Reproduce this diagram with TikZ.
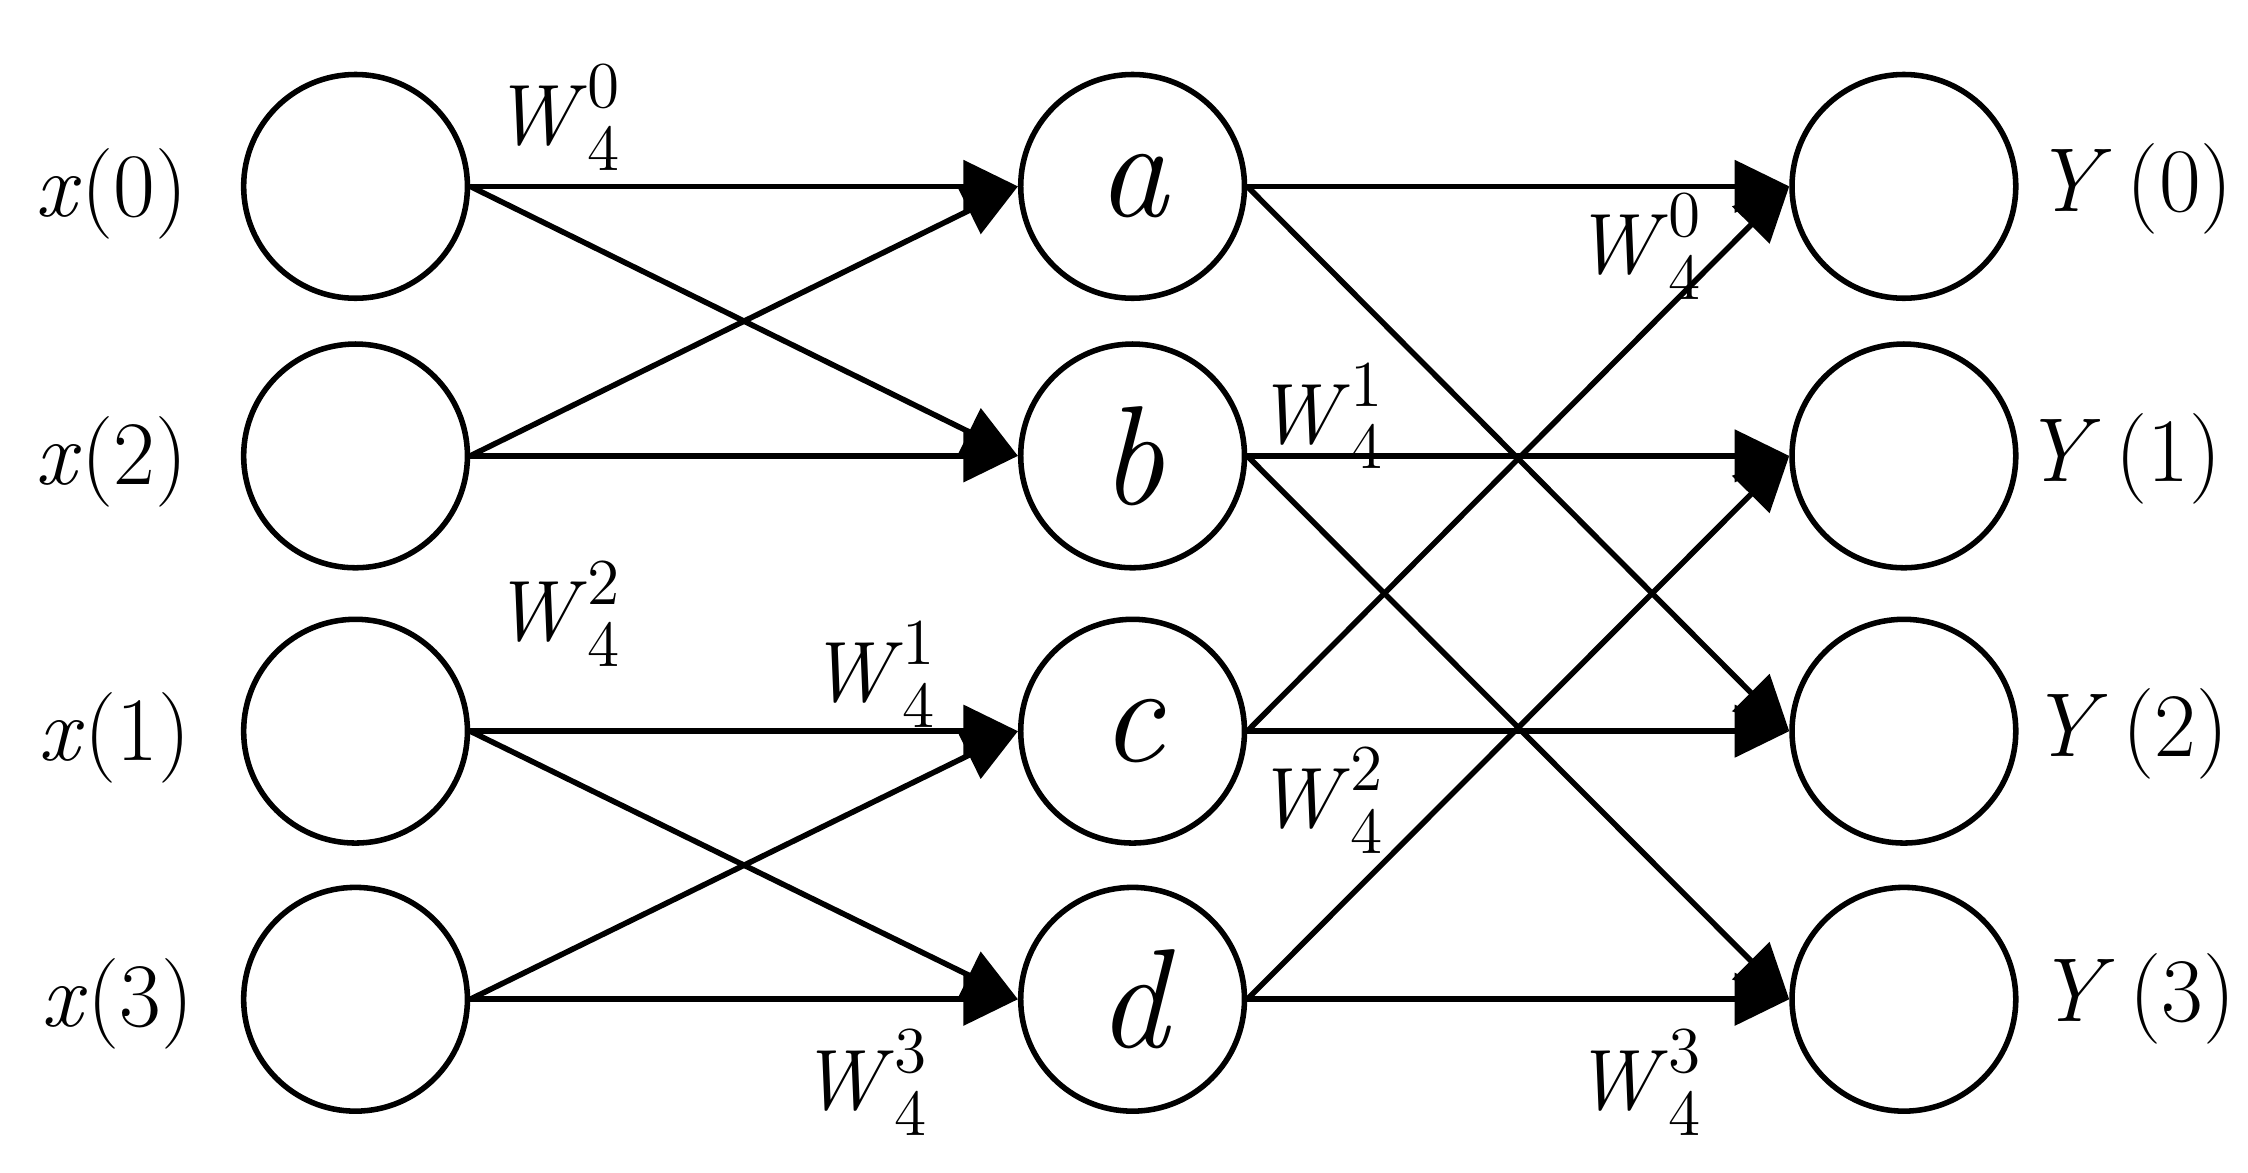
\documentclass[tikz,border=0pt]{standalone}
\usetikzlibrary{arrows.meta}
\begin{document}
\begin{tikzpicture}[x=0.01cm,y=-0.01cm,
  nd/.style={circle,draw,line width=1.1pt,minimum size=1.56cm,inner sep=0pt,font=\fontsize{28}{30}\selectfont\itshape},
  ar/.style={line width=1.1pt,-{Triangle[length=0.38cm,width=0.36cm]}},
  lb/.style={font=\fontsize{18}{20}\selectfont},
  wl/.style={font=\fontsize{17}{20}\selectfont}]
\useasboundingbox (0,0) rectangle (1568,818);
\foreach \n/\y in {x0/130,x2/318,x1/510,x3/697}{\node[nd] (\n) at (248,\y) {};}
\node[nd] (a) at (790,130) {a};
\node[nd] (b) at (790,318) {b};
\node[nd] (c) at (790,510) {c};
\node[nd] (d) at (790,697) {d};
\foreach \n/\y in {Y0/130,Y1/318,Y2/510,Y3/697}{\node[nd] (\n) at (1328,\y) {};}
\node[lb] (l0) at (78,135) {\textit{x}(0)};
\node[lb] (l2) at (78,322) {\textit{x}(2)};
\node[lb] (l1) at (80,515) {\textit{x}(1)};
\node[lb] (l3) at (82,700) {\textit{x}(3)};
\node[lb] (r0) at (1488,132) {\textit{Y}\,(0)};
\node[lb] (r1) at (1480,320) {\textit{Y}\,(1)};
\node[lb] (r2) at (1485,512) {\textit{Y}\,(2)};
\node[lb] (r3) at (1490,697) {\textit{Y}\,(3)};
\foreach \s/\t in {x0/a,x0/b,x2/a,x2/b,x1/c,x1/d,x3/c,x3/d,a/Y0,a/Y2,b/Y1,b/Y3,c/Y0,c/Y2,d/Y1,d/Y3}
  \draw[ar] (\s.east) -- (\t.west);
\newcommand{\tw}[2]{\textit{W}\raisebox{-0.7ex}{\fontsize{13}{14}\selectfont #1}\hspace{-0.5em}\raisebox{1.0ex}{\fontsize{13}{14}\selectfont\,#2}}
\node[wl] (w1) at (388,82) {\tw{4}{0}};
\node[wl] (w2) at (388,428) {\tw{4}{2}};
\node[wl] (w3) at (608,470) {\tw{4}{1}};
\node[wl] (w4) at (602,755) {\tw{4}{3}};
\node[wl] (w5) at (1142,172) {\tw{4}{0}};
\node[wl] (w6) at (920,290) {\tw{4}{1}};
\node[wl] (w7) at (920,558) {\tw{4}{2}};
\node[wl] (w8) at (1142,755) {\tw{4}{3}};
\end{tikzpicture}
\end{document}
